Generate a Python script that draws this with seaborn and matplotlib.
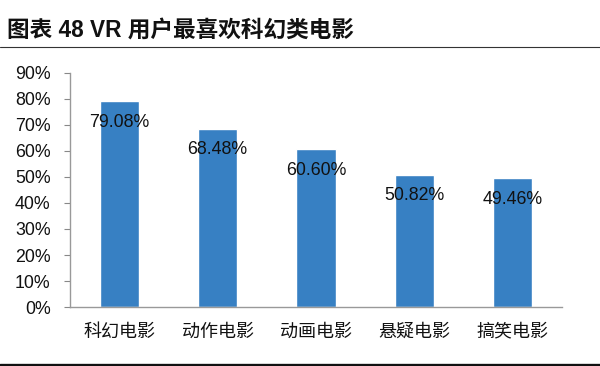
import matplotlib
matplotlib.use("Agg")
import matplotlib.pyplot as plt
import seaborn as sns
import pandas as pd
from matplotlib.lines import Line2D

categories = ["科幻电影", "动作电影", "动画电影", "悬疑电影", "搞笑电影"]
values = [79.08, 68.48, 60.60, 50.82, 49.46]
value_labels = ["79.08%", "68.48%", "60.60%", "50.82%", "49.46%"]
yticks = [0, 10, 20, 30, 40, 50, 60, 70, 80, 90]
ytick_labels = ["0%", "10%", "20%", "30%", "40%", "50%", "60%", "70%", "80%", "90%"]
title = "图表 48 VR 用户最喜欢科幻类电影"

sns.set_style("white")
plt.rcParams['font.family'] = ['Liberation Sans', 'Noto Sans CJK SC', 'DejaVu Sans']

df = pd.DataFrame({"cat": categories, "val": values})

W, H = 600, 366
fig = plt.figure(figsize=(W / 100, H / 100), dpi=100)
ax = fig.add_axes([70 / W, (H - 307) / H, (562 - 70) / W, (307 - 73) / H])

sns.barplot(data=df, x="cat", y="val", color="#3780C3", saturation=1, width=0.4, ax=ax)
ax.set_ylim(0, 90)
ax.set_xlim(-0.5, len(categories) - 0.5)
ax.set_yticks(yticks)
ax.set_yticklabels(ytick_labels, fontsize=12.8, color="#111111")
ax.set_xlabel("")
ax.set_ylabel("")
ax.tick_params(axis="x", labelsize=13, length=0, pad=12, colors="#111111")
ax.tick_params(axis="y", left=True, length=4, width=0.8, color="#888888", pad=10)
for s in ["top", "right"]:
    ax.spines[s].set_visible(False)
for s in ["left", "bottom"]:
    ax.spines[s].set_color("#999999")
    ax.spines[s].set_linewidth(1)

for i, (v, lab) in enumerate(zip(values, value_labels)):
    ax.annotate(lab, xy=(i, v), xytext=(0, -15), textcoords="offset points",
                ha="center", va="center", fontsize=12.8, color="#111111")

fig.text(7 / W, 1 - 30 / H, title, fontsize=16.3, fontweight="bold",
         family=['Liberation Sans', 'Noto Sans CJK SC'], va="center", ha="left", color="#111111")
fig.add_artist(Line2D([0, 1], [1 - 47 / H, 1 - 47 / H], transform=fig.transFigure,
                      color="#333333", linewidth=0.8))
fig.add_artist(Line2D([0, 1], [1 - 364.5 / H, 1 - 364.5 / H], transform=fig.transFigure,
                      color="#111111", linewidth=2.4))

fig.savefig("out.png", dpi=100)
